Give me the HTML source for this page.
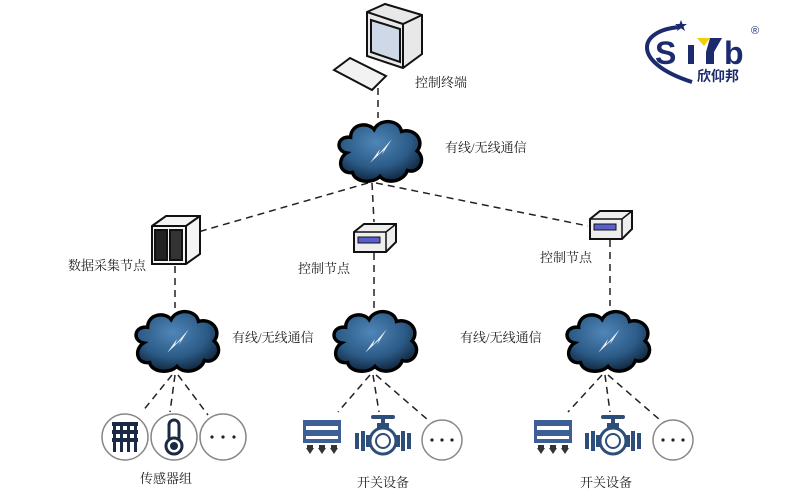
<!DOCTYPE html>
<html><head><meta charset="utf-8"><style>
html,body{margin:0;padding:0;background:#fff;}
svg{display:block}
text{font-family:"Liberation Serif","Noto Serif CJK SC",serif;font-size:13px;fill:#222}
</style></head><body>
<svg width="800" height="500" viewBox="0 0 800 500" xmlns="http://www.w3.org/2000/svg">
<defs>
<radialGradient id="cg" cx="0.45" cy="0.35" r="0.7">
<stop offset="0" stop-color="#4f86b8"/><stop offset="0.6" stop-color="#2b5a86"/><stop offset="1" stop-color="#0d1f33"/>
</radialGradient>
<symbol id="cloud" viewBox="0 0 90 70" overflow="visible">
<path d="M12,38 C0,36 2,20 16,22 C16,8 34,6 40,14 C46,2 66,4 68,16 C82,12 92,26 84,36 C94,44 86,60 74,56 C70,68 52,70 46,62 C38,70 20,68 18,58 C4,60 2,44 12,38 Z" fill="url(#cg)" stroke="#000" stroke-width="3.5"/>
<path d="M36,48 L46,34 L44,40 L58,24 L48,40 L50,35 Z" fill="#fff" opacity="0.9"/>
</symbol>
<symbol id="box" viewBox="0 0 46 32" overflow="visible">
<path d="M2,10 L12,2 L44,2 L44,20 L34,30 L2,30 Z" fill="#eee" stroke="#111" stroke-width="2"/>
<path d="M2,10 L34,10 L44,2 M34,10 L34,30" fill="none" stroke="#111" stroke-width="1.5"/>
<rect x="6" y="15" width="22" height="6" fill="#5a5fd0" stroke="#111"/>
</symbol>
<symbol id="list" viewBox="0 0 40 40" overflow="visible">
<g fill="#3d5f95"><rect x="0" y="0" width="38" height="6"/><rect x="0" y="10" width="38" height="6"/><rect x="0" y="0" width="3" height="22"/><rect x="35" y="0" width="3" height="22"/><rect x="0" y="19" width="38" height="4"/></g>
<g fill="#333"><path d="M3,28 h8 l-4,6z M4,25 h6 v4 h-6z"/><path d="M15,28 h8 l-4,6z M16,25 h6 v4 h-6z"/><path d="M27,28 h8 l-4,6z M28,25 h6 v4 h-6z"/></g>
</symbol>
<symbol id="valve" viewBox="0 0 60 44" overflow="visible">
<g fill="#2e4e7a"><rect x="18" y="2" width="24" height="4" rx="2"/><rect x="28" y="2" width="4" height="10"/><rect x="24" y="10" width="12" height="5"/>
<circle cx="30" cy="28" r="13" fill="none" stroke="#2e4e7a" stroke-width="3"/><circle cx="30" cy="28" r="7" fill="none" stroke="#2e4e7a" stroke-width="2"/>
<rect x="2" y="20" width="4" height="16"/><rect x="8" y="18" width="4" height="20"/><rect x="13" y="22" width="4" height="12"/>
<rect x="43" y="22" width="4" height="12"/><rect x="48" y="18" width="4" height="20"/><rect x="54" y="20" width="4" height="16"/></g>
</symbol>
</defs>

<g stroke="#222" stroke-width="1.5" stroke-dasharray="7,5" fill="none">
<line x1="378" y1="88" x2="378" y2="118"/>
<line x1="368" y1="183" x2="198" y2="232"/>
<line x1="372" y1="183" x2="374" y2="222"/>
<line x1="376" y1="183" x2="588" y2="226"/>
<line x1="175" y1="266" x2="175" y2="308"/>
<line x1="374" y1="253" x2="374" y2="308"/>
<line x1="610" y1="240" x2="610" y2="306"/>
<line x1="172" y1="375" x2="142" y2="412"/>
<line x1="175" y1="375" x2="170" y2="412"/>
<line x1="178" y1="375" x2="208" y2="415"/>
<line x1="370" y1="375" x2="338" y2="412"/>
<line x1="373" y1="375" x2="379" y2="412"/>
<line x1="376" y1="375" x2="428" y2="420"/>
<line x1="602" y1="375" x2="568" y2="412"/>
<line x1="605" y1="375" x2="610" y2="412"/>
<line x1="608" y1="375" x2="660" y2="420"/>
</g>

<g stroke="#111" stroke-width="2">
<path d="M367,12 L385,4 L422,15 L422,54 L403,68 L367,56 Z" fill="#e8e8e8"/>
<path d="M367,12 L403,24 L422,15 M403,24 L403,68" fill="none"/>
<path d="M371,20 L400,29 L400,62 L371,52 Z" fill="#cfd8e6"/>
<path d="M334,70 L350,58 L386,76 L372,90 Z" fill="#f2f2f2"/>
</g>
<text x="415" y="87">控制终端</text>

<use href="#cloud" x="335" y="115" width="88" height="70"/>
<text x="445" y="152">有线/无线通信</text>

<g stroke="#111" stroke-width="2">
<path d="M152,226 L166,216 L200,216 L200,254 L186,264 L152,264 Z" fill="#f4f4f4"/>
<path d="M152,226 L186,226 L200,216 M186,226 L186,264" fill="none"/>
<rect x="155" y="230" width="12" height="30" fill="#222"/><rect x="170" y="230" width="12" height="30" fill="#333"/>
</g>
<text x="68" y="270">数据采集节点</text>

<use href="#box" x="352" y="222" width="46" height="32"/>
<text x="298" y="273">控制节点</text>
<use href="#box" x="588" y="209" width="46" height="32"/>
<text x="540" y="262">控制节点</text>

<use href="#cloud" x="132" y="305" width="88" height="70"/>
<use href="#cloud" x="330" y="305" width="88" height="70"/>
<use href="#cloud" x="563" y="305" width="88" height="70"/>
<text x="232" y="342">有线/无线通信</text>
<text x="460" y="342">有线/无线通信</text>

<g fill="#fff" stroke="#888" stroke-width="1.5">
<circle cx="125" cy="437" r="23"/><circle cx="174" cy="437" r="23"/><circle cx="223" cy="437" r="23"/>
</g>
<g fill="#1b2a44"><rect x="112" y="422" width="26" height="4"/><rect x="112" y="430" width="26" height="4"/><rect x="112" y="438" width="26" height="4"/>
<rect x="113" y="422" width="3" height="30"/><rect x="120" y="422" width="3" height="30"/><rect x="127" y="422" width="3" height="30"/><rect x="134" y="422" width="3" height="30"/></g>
<g><rect x="169" y="420" width="10" height="22" rx="5" fill="none" stroke="#1b2a44" stroke-width="3"/><circle cx="174" cy="446" r="8" fill="#fff" stroke="#1b2a44" stroke-width="3"/><circle cx="174" cy="446" r="4" fill="#1b2a44"/></g>
<g fill="#222"><circle cx="212" cy="437" r="1.6"/><circle cx="223" cy="437" r="1.6"/><circle cx="234" cy="437" r="1.6"/></g>
<text x="140" y="483">传感器组</text>

<use href="#list" x="303" y="420" width="40" height="40"/>
<use href="#valve" x="353" y="413" width="60" height="44"/>
<circle cx="442" cy="440" r="20" fill="#fff" stroke="#888" stroke-width="1.5"/>
<g fill="#222"><circle cx="432" cy="440" r="1.6"/><circle cx="442" cy="440" r="1.6"/><circle cx="452" cy="440" r="1.6"/></g>
<text x="357" y="487">开关设备</text>

<use href="#list" x="534" y="420" width="40" height="40"/>
<use href="#valve" x="583" y="413" width="60" height="44"/>
<circle cx="673" cy="440" r="20" fill="#fff" stroke="#888" stroke-width="1.5"/>
<g fill="#222"><circle cx="663" cy="440" r="1.6"/><circle cx="673" cy="440" r="1.6"/><circle cx="683" cy="440" r="1.6"/></g>
<text x="580" y="487">开关设备</text>

<!-- logo -->
<path d="M680,27 C638,30 630,62 692,82" fill="none" stroke="#1c2a6e" stroke-width="4"/>
<path d="M681,20 l1.5,4 4.5,0 -3.5,2.5 1.5,4.5 -4,-2.7 -4,2.7 1.5,-4.5 -3.5,-2.5 4.5,0z" fill="#1c2a6e"/>
<text x="655" y="64" style="font-family:'Liberation Sans',sans-serif;font-weight:bold;font-size:32px;fill:#1c2a6e">S</text>
<rect x="688" y="45" width="6" height="19" fill="#1c2a6e"/>
<path d="M697,38 L710,38 L704,46 Z" fill="#f0d000"/>
<path d="M710,38 L722,38 L714,52 L714,64 L706,64 L706,52 Z" fill="#1c2a6e"/>
<text x="724" y="64" style="font-family:'Liberation Sans',sans-serif;font-weight:bold;font-size:32px;fill:#1c2a6e">b</text>
<text x="751" y="34" style="font-family:'Liberation Sans',sans-serif;font-size:11px;fill:#1c2a6e">®</text>
<text x="697" y="81" style="font-family:'Liberation Sans','Noto Sans CJK SC',sans-serif;font-weight:bold;font-size:14px;fill:#1c2a6e">欣仰邦</text>
</svg>
</body></html>
